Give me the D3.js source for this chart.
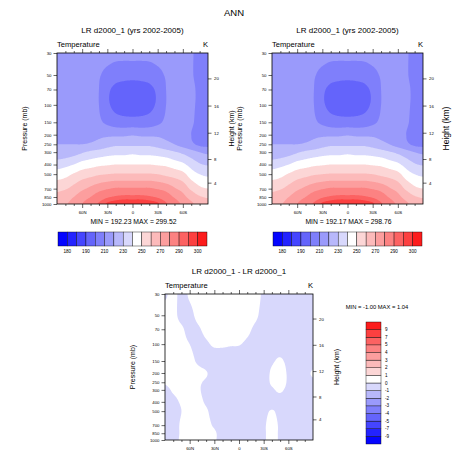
<!DOCTYPE html>
<html><head><meta charset="utf-8">
<script src="https://cdn.jsdelivr.net/npm/d3@7"></script>
<style>
body{margin:0;background:#fff;}
svg{display:block;font-family:"Liberation Sans",Arial,Helvetica,sans-serif;}
</style>
</head><body>
<svg id="c" width="454" height="452"></svg>
<script>
// ---------------- data ----------------
const levels = [30,50,70,100,150,200,250,300,400,500,700,850,1000];
const lats = [90,80,70,60,50,40,30,20,10,0,-10,-20,-30,-40,-50,-60,-70,-80,-90];
// zonal-mean temperature (K), rows = levels (top to bottom), cols = lats (90N..90S)
const tempRow30   = [214,215,216,216,216,215,214,213,213,213,213,213,214,215,215,213,211,207,205];
const tempRow50   = [215,216,217,217,215,211,207,204,203,203,203,204,207,211,214,214,211,207,205];
const tempRow70   = [215,216,217,217,215,210,202,198,197,196,197,198,202,210,214,214,212,208,206];
const tempRow100  = [215,216,217,217,216,210,202,197,195,194,195,197,202,210,214,213,211,209,208];
const tempRow150  = [216,217,218,218,217,212,208,205,204,204,204,205,208,212,216,214,211,208,206];
const tempRow200  = [217,218,218,218,218,218,218,218,218,219,218,218,218,217,216,213,210,207,206];
const tempRow250  = [220,220,220,220,221,223,226,228,228,228,228,228,226,223,220,216,212,208,207];
const tempRow300  = [223,224,226,229,232,234,236,237,237,238,237,237,236,234,231,228,224,220,218];
const tempRow400  = [235,237,240,244,246,248,249,250,250,250,250,250,249,248,245,242,236,231,229];
const tempRow500  = [245,247,251,255,257,259,260,261,261,261,261,261,260,258,256,253,245,240,238];
const tempRow700  = [257,259,263,268,272,276,279,281,281,281,281,281,279,276,271,266,258,252,250];
const tempRow850  = [263,265,270,275,280,285,289,291,292,292,292,291,289,285,279,273,266,261,259];
const tempRow1000 = [267,269,274,280,286,291,296,298,299,299,299,298,296,291,285,278,272,266,263];
const tempGrid = [tempRow30,tempRow50,tempRow70,tempRow100,tempRow150,tempRow200,tempRow250,
                  tempRow300,tempRow400,tempRow500,tempRow700,tempRow850,tempRow1000];

// difference field (K)
const diffRow30   = [-0.1, 0.2,-0.2, 0.1, 0.4, 0.5, 0.5, 0.5, 0.5, 0.4, 0.3, 0.2,-0.1,-0.3,-0.4,-0.4,-0.4,-0.4,-0.4];
const diffRow50   = [ 0.3, 0.2,-0.2,-0.2, 0.2, 0.4, 0.5, 0.5, 0.4, 0.3, 0.2, 0.1,-0.2,-0.3,-0.4,-0.4,-0.4,-0.4,-0.4];
const diffRow70   = [ 0.4, 0.3, 0.1,-0.2,-0.1, 0.2, 0.4, 0.4, 0.3, 0.2, 0.1,-0.1,-0.3,-0.4,-0.4,-0.4,-0.4,-0.4,-0.4];
const diffRow100  = [ 0.4, 0.4, 0.2, 0.0,-0.2,-0.1, 0.1, 0.1, 0.05,0.03,-0.1,-0.2,-0.3,-0.4,-0.4,-0.4,-0.4,-0.4,-0.4];
const diffRow150  = [ 0.4, 0.4, 0.3, 0.2,-0.1,-0.3,-0.4,-0.4,-0.4,-0.4,-0.4,-0.4,-0.3,-0.1, 0.1,-0.2,-0.4,-0.4,-0.4];
const diffRow200  = [ 0.4, 0.4, 0.4, 0.3, 0.2, 0.05,-0.3,-0.4,-0.4,-0.4,-0.4,-0.4,-0.3, 0.1, 0.3,-0.1,-0.4,-0.3, 0.1];
const diffRow250  = [ 0.1, 0.3, 0.4, 0.3, 0.1,-0.1,-0.4,-0.4,-0.4,-0.4,-0.4,-0.4,-0.3, 0.1, 0.3,-0.1,-0.4,-0.4,-0.2];
const diffRow300  = [-0.2, 0.1, 0.3, 0.3, 0.1,-0.2,-0.4,-0.4,-0.4,-0.4,-0.4,-0.4,-0.3,-0.1, 0.1,-0.2,-0.4,-0.4,-0.4];
const diffRow400  = [-0.3,-0.2, 0.1, 0.3, 0.2,-0.1,-0.4,-0.4,-0.4,-0.4,-0.4,-0.4,-0.4,-0.3,-0.3,-0.4,-0.4,-0.4,-0.4];
const diffRow500  = [-0.3,-0.3, 0.0, 0.3, 0.3, 0.1,-0.3,-0.4,-0.4,-0.4,-0.4,-0.4,-0.2, 0.05,-0.2,-0.4,-0.4,-0.4,-0.4];
const diffRow700  = [-0.3,-0.3, 0.1, 0.3, 0.3, 0.2,-0.1,-0.4,-0.4,-0.4,-0.4,-0.4,-0.1, 0.2,-0.1,-0.4,-0.4,-0.4,-0.4];
const diffRow850  = [-0.3,-0.3, 0.1, 0.3, 0.4, 0.3, 0.1,-0.3,-0.4,-0.4,-0.4,-0.4,-0.1, 0.2,-0.1,-0.4,-0.4,-0.4,-0.4];
const diffRow1000 = [-0.3,-0.2, 0.1, 0.3, 0.4, 0.3, 0.1,-0.3,-0.4,-0.4,-0.4,-0.4,-0.1, 0.2,-0.1,-0.4,-0.4,-0.4,-0.4];
const diffGrid = [diffRow30,diffRow50,diffRow70,diffRow100,diffRow150,diffRow200,diffRow250,
                  diffRow300,diffRow400,diffRow500,diffRow700,diffRow850,diffRow1000];

const tempCntr = [180,185,190,200,210,220,230,240,250,260,270,280,290,295,300];
const tempCbarLabels = [180,190,210,230,250,270,290,300];
const diffCntr = [-9,-7,-5,-4,-3,-2,-1,0,1,2,3,4,5,7,9];
const palette = ["#0505ff","#2323ff","#4545ff","#6464fb","#7f7ffb","#9a9afb","#b8b8fb","#d8d8fc",
                 "#ffffff","#fcd6d6","#fcbaba","#fc9e9e","#fc8282","#fc6262","#fc4040","#fc1c1c"];
const heightTicks = [4,8,12,16,20];
const latMajor = [60,30,0,-30,-60];
const latLabels = ["60N","30N","0","30S","60S"];
const latMinor = [80,70,50,40,20,10,-10,-20,-40,-50,-70,-80];

const panels = [
  {x0:57,y0:53,w:151,h:151,title:"LR d2000_1 (yrs 2002-2005)",grid:tempGrid,cntr:tempCntr,
   minmax:"MIN = 192.23   MAX = 299.52",hgtFont:7},
  {x0:272,y0:53,w:151,h:151,title:"LR d2000_1 (yrs 2002-2005)",grid:tempGrid,cntr:tempCntr,
   minmax:"MIN = 192.17   MAX = 298.76",hgtFont:8.5},
  {x0:165,y0:294,w:148,h:146,title:"LR d2000_1 - LR d2000_1",grid:diffGrid,cntr:diffCntr,
   minmax:"MIN = -1.00  MAX =  1.04",hgtFont:7}
];

// standard atmosphere: height (km) -> pressure (mb)
function stdP(hkm){
  const h = hkm*1000;
  if (h <= 11000) return 1013.25*Math.pow(1-2.25577e-5*h,5.25588);
  return 226.32*Math.exp(-(h-11000)/6341.6);
}

const svg = d3.select("#c");
svg.append("rect").attr("width",454).attr("height",452).attr("fill","#fff");

svg.append("text").attr("x",234).attr("y",16).attr("text-anchor","middle")
   .attr("font-size",9.5).text("ANN");

// catmull-rom
function cr(p0,p1,p2,p3,t){
  const t2=t*t,t3=t2*t;
  return 0.5*((2*p1)+(-p0+p2)*t+(2*p0-5*p1+4*p2-p3)*t2+(-p0+3*p1-3*p2+p3)*t3);
}
function sampleGrid(grid, fi, fj){
  const ny=grid.length, nx=grid[0].length;
  const i1=Math.min(Math.floor(fi),nx-2), j1=Math.min(Math.floor(fj),ny-2);
  const s=fi-i1, t=fj-j1;
  const g=(j,i)=>grid[Math.max(0,Math.min(ny-1,j))][Math.max(0,Math.min(nx-1,i))];
  const rows=[];
  for(let dj=-1;dj<=2;dj++){
    const j=j1+dj;
    rows.push(cr(g(j,i1-1),g(j,i1),g(j,i1+1),g(j,i1+2),s));
  }
  return cr(rows[0],rows[1],rows[2],rows[3],t);
}

const logLev = levels.map(Math.log10);
const NX=180, NY=180;

panels.forEach((P,pi)=>{
  const x = d3.scaleLinear().domain([90,-90]).range([P.x0,P.x0+P.w]);
  const y = d3.scaleLog().domain([30,1000]).range([P.y0,P.y0+P.h]);
  const g = svg.append("g");
  const clipId="clip"+pi;
  g.append("clipPath").attr("id",clipId).append("rect")
    .attr("x",P.x0).attr("y",P.y0).attr("width",P.w).attr("height",P.h);

  const vals=new Float64Array(NX*NY);
  const lp0=Math.log10(30), lp1=Math.log10(1000);
  for(let j=0;j<NY;j++){
    const lp=lp0+(lp1-lp0)*j/(NY-1);
    let k=0; while(k<logLev.length-2 && lp>logLev[k+1]) k++;
    const fj=k+(lp-logLev[k])/(logLev[k+1]-logLev[k]);
    for(let i=0;i<NX;i++){
      const fi=i*(lats.length-1)/(NX-1);
      vals[j*NX+i]=sampleGrid(P.grid,fi,fj);
    }
  }
  const contours=d3.contours().size([NX,NY]).thresholds(P.cntr)(vals);
  const clamp=v=>Math.max(0,Math.min(1,v));
  const proj=d3.geoTransform({point:function(px,py){
    const fx=clamp((px-0.5)/(NX-1)), fy=clamp((py-0.5)/(NY-1));
    const lat=90-180*fx;
    const p=Math.pow(10,lp0+(lp1-lp0)*fy);
    this.stream.point(x(lat),y(p));
  }});
  const path=d3.geoPath(proj);
  const cg=g.append("g").attr("clip-path",`url(#${clipId})`);
  cg.append("rect").attr("x",P.x0).attr("y",P.y0).attr("width",P.w).attr("height",P.h)
    .attr("fill",palette[0]);
  cg.selectAll("path").data(contours).join("path")
    .attr("d",path).attr("fill",(d,i)=>palette[i+1]).attr("stroke","none");

  g.append("rect").attr("x",P.x0).attr("y",P.y0).attr("width",P.w).attr("height",P.h)
    .attr("fill","none").attr("stroke","#000").attr("stroke-width",0.8);

  const fs=4.3;
  const yAx=g.append("g").attr("transform",`translate(${P.x0},0)`)
    .call(d3.axisLeft(y).tickValues(levels).tickFormat(d3.format("d")).tickSize(3.5).tickPadding(2));
  const xb=g.append("g").attr("transform",`translate(0,${P.y0+P.h})`)
    .call(d3.axisBottom(x).tickValues(latMajor).tickFormat((d,i)=>latLabels[i]).tickSize(4).tickPadding(3));
  const xbm=g.append("g").attr("transform",`translate(0,${P.y0+P.h})`)
    .call(d3.axisBottom(x).tickValues(latMinor).tickFormat("").tickSize(2));
  const xt=g.append("g").attr("transform",`translate(0,${P.y0})`)
    .call(d3.axisTop(x).tickValues(latMajor).tickFormat("").tickSize(4));
  const xtm=g.append("g").attr("transform",`translate(0,${P.y0})`)
    .call(d3.axisTop(x).tickValues(latMinor).tickFormat("").tickSize(2));
  [yAx,xb,xbm,xt,xtm].forEach(a=>{
    a.select(".domain").remove();
    a.selectAll("line").attr("stroke","#000").attr("stroke-width",0.6);
    a.selectAll("text").attr("font-size",fs).attr("font-family","Liberation Sans,Arial,sans-serif").attr("fill","#000");
  });
  const ra=g.append("g");
  heightTicks.forEach(hv=>{
    const yy=y(stdP(hv));
    ra.append("line").attr("x1",P.x0+P.w).attr("x2",P.x0+P.w+3.5).attr("y1",yy).attr("y2",yy)
      .attr("stroke","#000").attr("stroke-width",0.6);
    ra.append("text").attr("x",P.x0+P.w+6).attr("y",yy).attr("dy","0.35em")
      .attr("font-size",fs).text(hv);
  });

  const cy=P.y0+P.h/2;
  g.append("text").attr("transform",`translate(${P.x0-30},${cy}) rotate(-90)`)
    .attr("text-anchor","middle").attr("font-size",7).text("Pressure (mb)");
  g.append("text").attr("transform",`translate(${P.x0+P.w+26},${cy}) rotate(-90)`)
    .attr("text-anchor","middle").attr("font-size",P.hgtFont).text("Height (km)");

  g.append("text").attr("x",P.x0+P.w/2).attr("y",P.y0-20).attr("text-anchor","middle")
    .attr("font-size",8).text(P.title);
  g.append("text").attr("x",P.x0).attr("y",P.y0-6).attr("font-size",7.6).text("Temperature");
  g.append("text").attr("x",P.x0+P.w).attr("y",P.y0-6).attr("text-anchor","end").attr("font-size",7.6).text("K");

  if(pi<2){
    g.append("text").attr("x",P.x0+P.w/2+1).attr("y",P.y0+P.h+20).attr("text-anchor","middle")
      .attr("font-size",6.8).text(P.minmax);
    const cb=d3.scaleBand().domain(d3.range(16)).range([P.x0+1,P.x0+P.w-1]);
    const cby=P.y0+P.h+28, cbh=14;
    g.selectAll(null).data(palette).join("rect")
      .attr("x",(d,i)=>cb(i)).attr("y",cby).attr("width",cb.bandwidth()).attr("height",cbh)
      .attr("fill",d=>d).attr("stroke","#000").attr("stroke-width",0.4);
    g.selectAll(null).data(tempCbarLabels).join("text")
      .attr("x",d=>cb(tempCntr.indexOf(d)+1)).attr("y",cby+cbh+7)
      .attr("text-anchor","middle").attr("font-size",4.6).text(d=>d);
  } else {
    g.append("text").attr("x",377).attr("y",309).attr("text-anchor","middle")
      .attr("font-size",5.8).text(P.minmax);
    const cb=d3.scaleBand().domain(d3.range(16)).range([444,322]);
    g.selectAll(null).data(palette).join("rect")
      .attr("x",366).attr("y",(d,i)=>cb(i)).attr("width",15).attr("height",cb.bandwidth())
      .attr("fill",d=>d).attr("stroke","#000").attr("stroke-width",0.4);
    g.selectAll(null).data(diffCntr).join("text")
      .attr("x",385).attr("y",(d,i)=>cb(i)).attr("dy","0.35em")
      .attr("font-size",4.6).text(d=>d);
  }
});
</script>
</body></html>
